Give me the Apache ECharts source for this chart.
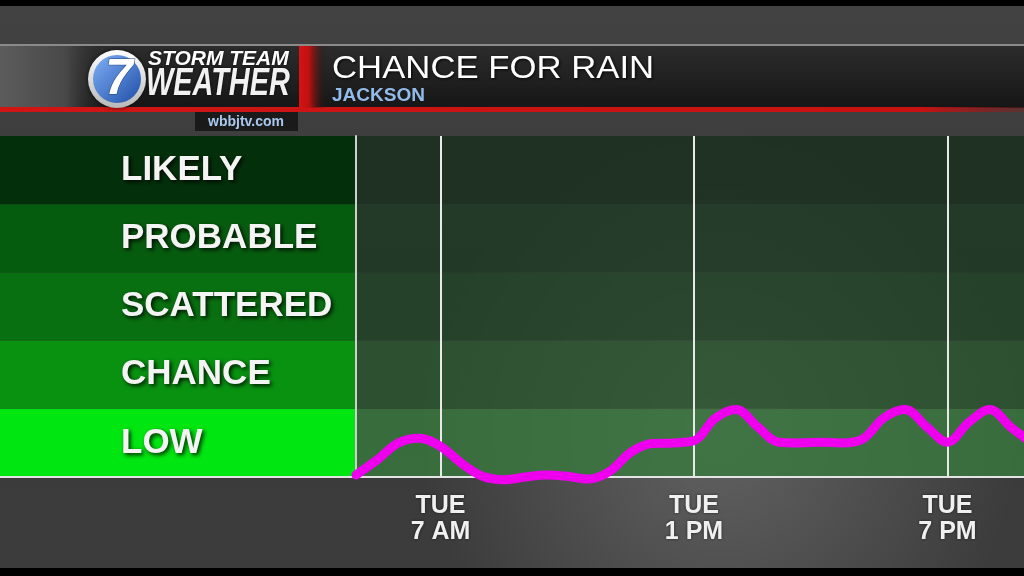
<!DOCTYPE html>
<html>
<head>
<meta charset="utf-8">
<script src="https://cdn.jsdelivr.net/npm/echarts@6/dist/echarts.min.js"></script>
<style>
html,body{margin:0;padding:0;background:#000;}
#chart{width:1024px;height:576px;}
</style>
</head>
<body>
<div id="chart"></div>
<script>
// ---- data ----
const levels = ['LOW', 'CHANCE', 'SCATTERED', 'PROBABLE', 'LIKELY'];
// hour of day (5 = 5 AM ... 21 = 9 PM), read every half hour
const hours  = [5.0, 5.5, 6.0, 6.5, 7.0, 7.5, 8.0, 8.5, 9.0, 9.5, 10.0, 10.5, 11.0, 11.5, 12.0, 12.5, 13.0,
                13.5, 14.0, 14.5, 15.0, 15.5, 16.0, 16.5, 17.0, 17.5, 18.0, 18.5, 19.0, 19.5, 20.0, 20.5, 21.0];
// level on the LOW..LIKELY scale (0 = bottom of LOW, 1 = top of LOW)
const chance = [0.03, 0.25, 0.5, 0.57, 0.45, 0.2, 0.01, -0.04, 0.0, 0.03, 0.01, -0.03, 0.08, 0.36, 0.49, 0.5, 0.53,
                0.86, 0.99, 0.74, 0.51, 0.5, 0.51, 0.5, 0.56, 0.87, 0.99, 0.74, 0.51, 0.8, 0.99, 0.73, 0.5];
const tickHours = [7, 13, 19];
const tickDays  = ['TUE', 'TUE', 'TUE'];
const tickTimes = ['7 AM', '1 PM', '7 PM'];
const title = 'CHANCE FOR RAIN';
const subtitle = 'JACKSON';
const site = 'wbbjtv.com';

// ---- styles ----
const panelColors = ['rgb(0,230,16)', 'rgb(8,146,16)', 'rgb(8,112,16)', 'rgb(6,92,14)', 'rgb(3,48,10)'];
const plotColors  = ['rgba(58,121,63,0.8)', 'rgba(42,86,48,0.8)', 'rgba(33,68,38,0.8)', 'rgba(29,58,36,0.8)', 'rgba(23,46,28,0.8)'];
const F = '"Liberation Sans", Arial, sans-serif';

const chart = echarts.init(document.getElementById('chart'), null, {renderer: 'canvas'});

const option = {
  animation: false,
  backgroundColor: {
    type: 'linear', x: 0, y: 0, x2: 0, y2: 1,
    colorStops: [
      {offset: 0, color: '#424242'},
      {offset: 0.5, color: '#3a3a3a'},
      {offset: 1, color: '#3c3c3c'}
    ]
  },
  graphic: [
    // soft light behind the plot
    {type: 'circle', z: -5, shape: {cx: 720, cy: 430, r: 300},
     style: {fill: {type: 'radial', x: 0.5, y: 0.5, r: 0.5,
       colorStops: [{offset: 0, color: 'rgba(255,255,255,0.20)'}, {offset: 1, color: 'rgba(255,255,255,0)'}]}}},
    // black bars
    {type: 'rect', z: 60, shape: {x: 0, y: 0, width: 1024, height: 6}, style: {fill: '#000'}},
    {type: 'rect', z: 60, shape: {x: 0, y: 568, width: 1024, height: 8}, style: {fill: '#000'}},
    // header band
    {type: 'rect', z: 40, shape: {x: 0, y: 44, width: 1024, height: 2}, style: {fill: '#8a8a8a'}},
    {type: 'rect', z: 40, shape: {x: 0, y: 46, width: 1024, height: 62},
     style: {fill: {type: 'linear', x: 0, y: 0, x2: 0, y2: 1,
       colorStops: [{offset: 0, color: '#2c2c2c'}, {offset: 1, color: '#161616'}]}}},
    {type: 'rect', z: 41, shape: {x: 0, y: 46, width: 110, height: 62},
     style: {fill: {type: 'linear', x: 0, y: 0, x2: 1, y2: 0,
       colorStops: [{offset: 0, color: '#5c5c5c'}, {offset: 0.6, color: '#484848'}, {offset: 1, color: 'rgba(40,40,40,0)'}]}}},
    {type: 'rect', z: 42, shape: {x: 0, y: 107, width: 1024, height: 5},
     style: {fill: {type: 'linear', x: 0, y: 0, x2: 1, y2: 0,
       colorStops: [{offset: 0, color: '#d01515'}, {offset: 0.9, color: '#c81212'}, {offset: 1, color: 'rgba(150,20,20,0.3)'}]}}},
    {type: 'rect', z: 42, shape: {x: 299, y: 46, width: 28, height: 62},
     style: {fill: {type: 'linear', x: 0, y: 0, x2: 1, y2: 0,
       colorStops: [{offset: 0, color: '#d41414'}, {offset: 0.35, color: '#c01010'}, {offset: 1, color: 'rgba(30,20,20,0)'}]}}},
    // site box
    {type: 'rect', z: 42, shape: {x: 195, y: 112, width: 103, height: 19}, style: {fill: '#1a1a1a'}},
    {type: 'text', z: 43, style: {x: 246, y: 122, text: site, fill: '#a9c8ee', font: 'bold 14px ' + F, align: 'center', verticalAlign: 'middle'}},
    // logo
    {type: 'circle', z: 43, shape: {cx: 117, cy: 79, r: 29},
     style: {fill: {type: 'linear', x: 0, y: 0, x2: 0, y2: 1, colorStops: [{offset: 0, color: '#ffffff'}, {offset: 1, color: '#b8b8b8'}]},
       shadowBlur: 4, shadowColor: 'rgba(0,0,0,0.6)'}},
    {type: 'circle', z: 44, shape: {cx: 117, cy: 79, r: 24},
     style: {fill: {type: 'linear', x: 0, y: 0, x2: 1, y2: 1, colorStops: [{offset: 0, color: '#7fb0f5'}, {offset: 1, color: '#1f4ea8'}]}}},
    {type: 'text', z: 45, style: {x: 119, y: 80, text: '7', fill: '#ffffff', font: 'italic bold 50px ' + F, align: 'center', verticalAlign: 'middle',
       stroke: '#1f3f80', lineWidth: 1}},
    {type: 'text', z: 45, x: 148, y: 70, style: {x: 0, y: 0, text: 'STORM TEAM', fill: '#ffffff', font: 'italic bold 21px ' + F, verticalAlign: 'bottom',
       textShadowColor: 'rgba(0,0,0,0.7)', textShadowBlur: 3}},
    {type: 'text', z: 45, x: 146, y: 104, scaleX: 0.74, style: {x: 0, y: 0, text: 'WEATHER', fill: '#f2f2f2', font: 'italic bold 39px ' + F, verticalAlign: 'bottom',
       textShadowColor: 'rgba(0,0,0,0.7)', textShadowBlur: 3}},
    // title
    {type: 'text', z: 45, x: 332, y: 69, scaleX: 1.12, style: {x: 0, y: 0, text: title, fill: '#ffffff', font: '31px ' + F, verticalAlign: 'middle',
       textShadowColor: 'rgba(0,0,0,0.9)', textShadowBlur: 3, textShadowOffsetX: 1, textShadowOffsetY: 1}},
    {type: 'text', z: 45, style: {x: 332, y: 96, text: subtitle, fill: '#93bbea', font: 'bold 19px ' + F, verticalAlign: 'middle'}}
  ],
  grid: [
    {left: 356, right: 0, top: 136, bottom: 99},
    {left: 0, width: 356, top: 136, bottom: 99}
  ],
  xAxis: [
    {
      type: 'value', gridIndex: 0, min: 5, max: 20.81,
      axisLine: {show: true, lineStyle: {color: '#e4e4e4', width: 2}},
      axisTick: {show: false},
      splitLine: {show: false},
      axisLabel: {
        show: true, customValues: tickHours, margin: 16,
        color: '#f0f0f0', fontFamily: F, fontWeight: 'bold', fontSize: 25, lineHeight: 26,
        textShadowColor: 'rgba(0,0,0,0.6)', textShadowBlur: 3,
        formatter: function (v) {
          const i = tickHours.indexOf(v);
          return i < 0 ? '' : tickDays[i] + '\n' + tickTimes[i];
        }
      }
    },
    {
      type: 'value', gridIndex: 1, min: 0, max: 1,
      axisLine: {show: true, lineStyle: {color: '#e4e4e4', width: 2}},
      axisTick: {show: false}, axisLabel: {show: false}, splitLine: {show: false}
    }
  ],
  yAxis: [
    {
      type: 'value', gridIndex: 0, min: 0, max: 5, interval: 1,
      axisLine: {show: true, lineStyle: {color: '#cfcfcf', width: 2}},
      axisTick: {show: false}, axisLabel: {show: false},
      splitLine: {show: false},
      splitArea: {show: true, areaStyle: {color: plotColors}}
    },
    {
      type: 'category', gridIndex: 1, data: levels,
      axisLine: {show: false}, axisTick: {show: false},
      splitLine: {show: false},
      splitArea: {show: true, areaStyle: {color: panelColors}},
      axisLabel: {
        inside: true, margin: 121, align: 'left', padding: [7, 0, 0, 0],
        color: '#f4f4f4', fontFamily: F, fontWeight: 'bold', fontSize: 35,
        textShadowColor: 'rgba(0,0,0,0.85)', textShadowBlur: 4, textShadowOffsetX: 2, textShadowOffsetY: 2
      }
    }
  ],
  series: [
    {
      type: 'line', xAxisIndex: 0, yAxisIndex: 0, data: [], z: 1,
      markLine: {
        silent: true, symbol: ['none', 'none'],
        label: {show: false},
        lineStyle: {color: '#e8e8e8', width: 2, type: 'solid'},
        data: tickHours.map(h => ({xAxis: h}))
      }
    },
    {
      type: 'line', xAxisIndex: 0, yAxisIndex: 0, z: 5,
      data: hours.map((h, i) => [h, chance[i]]),
      smooth: 0.35, showSymbol: false, clip: false,
      lineStyle: {color: '#ee00ee', width: 9, cap: 'round'}
    }
  ]
};
chart.setOption(option);
</script>
</body>
</html>
